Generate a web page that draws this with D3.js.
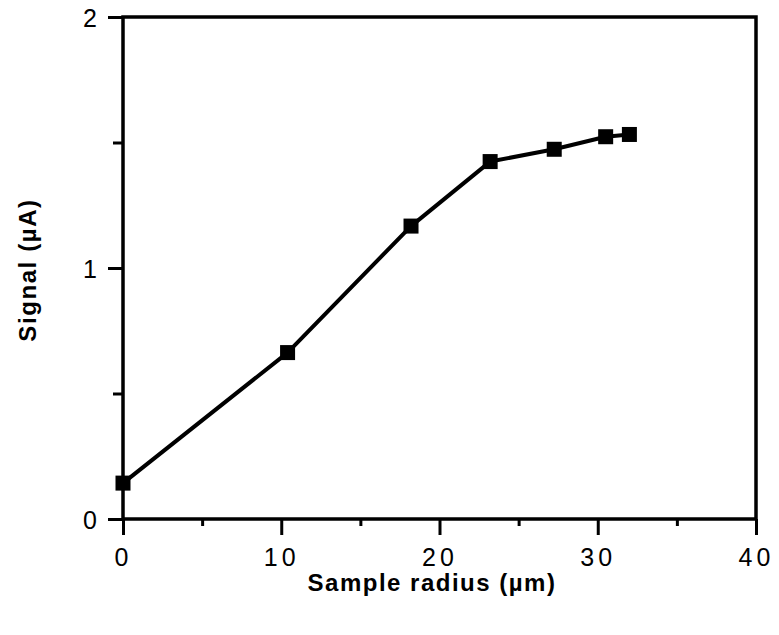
<!DOCTYPE html>
<html>
<head>
<meta charset="utf-8">
<script src="https://cdn.jsdelivr.net/npm/d3@7"></script>
<style>
  html, body { margin: 0; padding: 0; background: #fff; }
  svg { display: block; }
  text { font-family: "Liberation Sans", Arial, Helvetica, sans-serif; fill: #000; }
</style>
</head>
<body>
<svg id="chart" width="779" height="635"></svg>
<script>
// Sample radius (µm) and measured signal (µA)
const radius = [0, 10.4, 18.2, 23.2, 27.25, 30.5, 32.0];
const signal = [0.143, 0.663, 1.167, 1.424, 1.473, 1.523, 1.532];

const xMajorTicks = [0, 10, 20, 30, 40];
const xMinorTicks = [5, 15, 25, 35];
const yMajorTicks = [0, 1, 2];
const yMinorTicks = [0.5, 1.5];

const xTitle = "Sample radius (\u00b5m)";
const yTitle = "Signal (\u00b5A)";

const svg = d3.select("#chart");
const plotLeft = 123, plotRight = 756, plotTop = 17, plotBottom = 519;

const x = d3.scaleLinear().domain([0, 40]).range([plotLeft, plotRight]);
const y = d3.scaleLinear().domain([0, 2]).range([plotBottom, plotTop]);

// Frame
svg.append("rect")
  .attr("x", plotLeft).attr("y", plotTop)
  .attr("width", plotRight - plotLeft).attr("height", plotBottom - plotTop)
  .attr("fill", "none").attr("stroke", "#000").attr("stroke-width", 3.5);

// X axis: major ticks with labels, minor ticks without
const xAxisMajor = d3.axisBottom(x).tickValues(xMajorTicks).tickSize(16).tickSizeOuter(0).tickPadding(13).tickFormat(d3.format("d"));
const gx = svg.append("g").attr("transform", `translate(0,${plotBottom})`).call(xAxisMajor);
gx.select(".domain").remove();
gx.selectAll(".tick line").attr("stroke", "#000").attr("stroke-width", 3);
gx.selectAll(".tick text")
  .attr("font-size", 25).attr("letter-spacing", "4px")
  .attr("dx", "0px")
  .style("font-family", "'Liberation Sans', Arial, sans-serif");

const xAxisMinor = d3.axisBottom(x).tickValues(xMinorTicks).tickSize(7).tickSizeOuter(0).tickFormat("");
const gxm = svg.append("g").attr("transform", `translate(0,${plotBottom})`).call(xAxisMinor);
gxm.select(".domain").remove();
gxm.selectAll(".tick line").attr("stroke", "#000").attr("stroke-width", 3);

// Y axis: major ticks with labels, minor ticks without
const yAxisMajor = d3.axisLeft(y).tickValues(yMajorTicks).tickSize(15).tickSizeOuter(0).tickPadding(11).tickFormat(d3.format("d"));
const gy = svg.append("g").attr("transform", `translate(${plotLeft},0)`).call(yAxisMajor);
gy.select(".domain").remove();
gy.selectAll(".tick line").attr("stroke", "#000").attr("stroke-width", 3);
gy.selectAll(".tick text")
  .attr("font-size", 25)
  .attr("dy", "0.38em")
  .style("font-family", "'Liberation Sans', Arial, sans-serif");

const yAxisMinor = d3.axisLeft(y).tickValues(yMinorTicks).tickSize(10).tickSizeOuter(0).tickFormat("");
const gym = svg.append("g").attr("transform", `translate(${plotLeft},0)`).call(yAxisMinor);
gym.select(".domain").remove();
gym.selectAll(".tick line").attr("stroke", "#000").attr("stroke-width", 3);

// Data line
const pts = radius.map((r, i) => [r, signal[i]]);
svg.append("path")
  .datum(pts)
  .attr("d", d3.line().x(d => x(d[0])).y(d => y(d[1])))
  .attr("fill", "none").attr("stroke", "#000").attr("stroke-width", 4)
  .attr("stroke-linejoin", "round");

// Square markers
const s = 15;
svg.append("g").selectAll("rect")
  .data(pts)
  .join("rect")
  .attr("x", d => x(d[0]) - s / 2)
  .attr("y", d => y(d[1]) - s / 2)
  .attr("width", s).attr("height", s)
  .attr("fill", "#000");

// Axis titles
svg.append("text")
  .attr("x", 432).attr("y", 591)
  .attr("text-anchor", "middle")
  .attr("font-size", 24).attr("font-weight", "bold")
  .attr("letter-spacing", "1.5px")
  .text(xTitle);

svg.append("text")
  .attr("transform", "translate(36,270) rotate(-90)")
  .attr("text-anchor", "middle")
  .attr("font-size", 24).attr("font-weight", "bold")
  .attr("letter-spacing", "1.6px")
  .text(yTitle);
</script>
</body>
</html>
